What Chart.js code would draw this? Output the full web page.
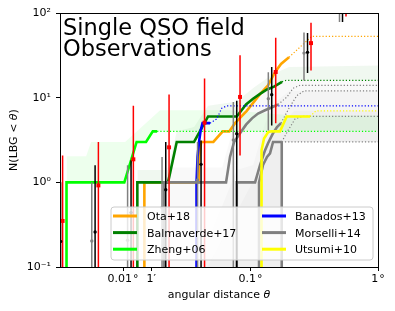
<!DOCTYPE html>
<html>
<head>
<meta charset="utf-8">
<script src="https://cdn.jsdelivr.net/npm/chart.js@4"></script>
<style>html,body{margin:0;padding:0;background:#fff}canvas{display:block}</style>
</head>
<body>
<canvas id="c" width="395" height="311"></canvas>
<script>
// x = angular distance (deg), y = N(LBG < theta)

// AXES
const xTickVals = [0.01, 1/60, 0.1, 1];
const xTickLabels = ['0.01\u200a°', '1′', '0.1\u200a°', '1\u200a°'];
const yTickVals = [0.1, 1, 10, 100];
const yTickLabels = ['10⁻¹', '10⁰', '10¹', '10²'];
const titleLines = ['Single QSO field', 'Observations'];

// Ota+18
const otaX = [0.01469, 0.01469, 0.03909, 0.03981, 0.04091, 0.05106, 0.06053, 0.06821, 0.07556, 0.09337, 0.1187, 0.1372, 0.1557, 0.1734, 0.2004];
const otaY = [0.01, 1, 1, 2, 3, 3, 4, 4, 5, 7, 11, 14, 20, 25, 30];
const otaDotX = [0.2004, 0.302, 1];
const otaDotY = [30, 53, 53];

// Balmaverde+17
const balmX = [0.01294, 0.01294, 0.02254, 0.02636, 0.03603, 0.04645, 0.07798, 0.0922, 0.1046, 0.1187, 0.1347, 0.1529, 0.1766];
const balmY = [0.01, 1, 1, 3, 3, 6, 6, 8.3, 9.7, 11.1, 12.5, 13.5, 15.4];
const balmDotX = [0.1766, 0.19, 1];
const balmDotY = [15.4, 16, 16];
const balmBandX = [0.01294, 0.02254, 0.02636, 0.03603, 0.04645, 0.07798, 0.105, 0.15, 0.2, 1];
const balmBandY = [1.4, 1.4, 4, 4.5, 8, 9, 13, 19, 23, 24];

// Zheng+06
const zhengX = [0.0036, 0.0036, 0.01023, 0.01277, 0.01514, 0.0171, 0.0185];
const zhengY = [0.01, 1, 1, 3, 3, 4, 4];
const zhengDotX = [0.0185, 1];
const zhengDotY = [4, 4];
const zhengBandX = [0.0036, 0.00513, 0.00561, 0.01037, 0.0195, 0.0691, 0.204, 1];
const zhengBandY = [2.03, 2.03, 3, 3, 7.1, 7.1, 6.2, 6.2];

// Banados+13
const banX = [0.03758, 0.03771, 0.0384, 0.03944, 0.04052, 0.04203, 0.04813];
const banY = [0.01, 1, 2, 3, 4, 5, 5];
const banDotX = [0.04813, 0.0543, 0.0594, 0.0651, 1];
const banDotY = [5, 5.6, 7.5, 8, 8];

// Morselli+14 (four fields)
const mor1X = [0.02108, 0.02108, 0.06424, 0.06906, 0.07424, 0.08271, 0.0922, 0.1027, 0.1145, 0.13, 0.1475, 0.1643];
const mor1Y = [0.01, 1, 1, 2, 3, 3.8, 4.8, 5.7, 6.5, 7.1, 7.7, 8.3];
const mor1DotX = [0.1643, 0.1934, 0.2154, 0.2444, 1];
const mor1DotY = [8.3, 10.2, 12.9, 14, 14];
const mor2X = [0.07794, 0.07794, 0.1085, 0.1187, 0.13, 0.1372, 0.1502, 0.1613, 0.1734];
const mor2Y = [0.01, 1, 1, 1.6, 2.4, 2.9, 3.8, 4.5, 5];
const mor2DotX = [0.1734, 0.2041, 0.2315, 0.2627, 1];
const mor2DotY = [5, 7.9, 10.6, 12, 12];
const mor3X = [0.1166, 0.1166, 0.1253, 0.1347, 0.1422, 0.1502, 0.1757];
const mor3Y = [0.01, 1, 1.6, 2, 2.2, 3, 3];
const mor3DotX = [0.1757, 0.1968, 0.2234, 0.2535, 1];
const mor3DotY = [3, 4.1, 5.6, 6, 6];
const mor4X = [0.1757, 0.1757];
const mor4Y = [0.01, 3];
const mor4DotX = [0.1757, 1];
const mor4DotY = [3, 3];
// shaded ranges: shared lower edge, three upper edges
const morLowX = [0.02108, 0.174, 0.178, 1];
const morLowY = [0.01, 0.01, 3, 3];
const morBand1X = [0.02108, 0.06, 0.075, 0.1, 0.13, 0.17, 0.22, 1];
const morBand1Y = [1.5, 1.5, 5, 9, 12, 15, 16, 16];
const morBand2X = [0.02108, 0.07794, 0.105, 0.13, 0.16, 0.2, 1];
const morBand2Y = [0.011, 1.4, 1.6, 5, 9, 12, 12];
const morBand3X = [0.02108, 0.1166, 0.14, 0.18, 0.22, 1];
const morBand3Y = [0.011, 1.4, 3.5, 5, 7, 7];

// Utsumi+10
const utsX = [0.122, 0.122, 0.1276, 0.1372, 0.1448, 0.1703, 0.1923, 0.2928];
const utsY = [0.01, 2.4, 3.3, 3.9, 4, 4, 6, 6];
const utsDotX = [0.2928, 0.3265, 1];
const utsDotY = [6, 7, 7];

// error bars
const redX = [0.003354, 0.006402, 0.01204, 0.02295, 0.04357, 0.08271, 0.1576, 0.2981, 0.561];
const redMid = [0.35, 0.92, 1.87, 2.59, 5.07, 10.2, 20.1, 44.1, 150];
const redLo = [0.01, 0.01, 0.01, 0.01, 0.01, 2.08, 5.0, 21, 91];
const redHi = [2.08, 3.0, 8.0, 10.9, 16.8, 31.6, 51.1, 76.8, 250];
const blackX = [0.003234, 0.006033, 0.01155, 0.02162, 0.04091, 0.07794, 0.1466, 0.28, 0.5267];
const blackMid = [0.2, 0.259, 0.439, 0.816, 1.63, 3.76, 10.85, 34.3, 150];
const blackLo = [0.01, 0.01, 0.01, 0.01, 0.01, 0.01, 4.7, 19.6, 78.5];
const blackHi = [1.0, 1.59, 1.82, 3.0, 3.13, 9.2, 23, 58.2, 250];
const greyX = [0.005682, 0.01085, 0.02022, 0.0384, 0.07329, 0.1379, 0.2627, 0.4989];
const greyMid = [0.203, 0.207, 0.5, 1.07, 3.16, 9.73, 33.6, 150];
const greyLo = [0.01, 0.01, 0.01, 0.01, 0.01, 4.1, 16, 78.5];
const greyHi = [1.0, 1.59, 1.99, 3.0, 8.9, 20, 59, 250];

// LEGEND
const legendLabels = ['Ota+18', 'Balmaverde+17', 'Zheng+06', 'Banados+13', 'Morselli+14', 'Utsumi+10'];
const legendColors = ['#ffa500', '#008000', '#00ff00', '#0000ff', '#808080', '#ffff00'];

function pts(xs, ys){ return xs.map((x,i)=>({x:x, y:ys[i]})); }
function bars(xs, lo, hi){
  let d=[];
  xs.forEach((x,i)=>{ d.push({x:x,y:lo[i]},{x:x,y:hi[i]},{x:x,y:null}); });
  return d;
}

let ds=[];
function add(d){
  d.order=1000-ds.length;   // later = on top
  d.clip=0;
  d.tension=0;
  if(d.fill===undefined) d.fill=false;
  ds.push(d);
}
function solid(xs,ys,col){ add({data:pts(xs,ys),borderColor:col,borderWidth:2.6}); }
function dotted(xs,ys,col){ add({data:pts(xs,ys),borderColor:col,borderWidth:1.2,borderDash:[1.2,2]}); }
function bandTo(lx,ly,xs,ys,col){
  add({data:pts(lx,ly),borderColor:'rgba(0,0,0,0)',borderWidth:1});
  add({data:pts(xs,ys),borderColor:'rgba(0,0,0,0)',borderWidth:1,backgroundColor:col,fill:'-1'});
}
function errs(xs,lo,hi,col){ add({data:bars(xs,lo,hi),borderColor:col,borderWidth:1.5,spanGaps:false}); }
function marks(xs,ys,col,style,r){
  add({data:pts(xs,ys),showLine:false,pointRadius:r,pointStyle:style,pointBackgroundColor:col,pointBorderWidth:0});
}

// bands
bandTo(morLowX,morLowY,morBand1X,morBand1Y,'rgba(128,128,128,0.05)');
bandTo(morLowX,morLowY,morBand2X,morBand2Y,'rgba(128,128,128,0.04)');
bandTo(morLowX,morLowY,morBand3X,morBand3Y,'rgba(128,128,128,0.04)');
bandTo(zhengX.slice(1).concat(zhengDotX.slice(1)), zhengY.slice(1).concat(zhengDotY.slice(1)), zhengBandX, zhengBandY, 'rgba(0,255,0,0.07)');
bandTo(balmX.slice(1).concat(balmDotX.slice(1)), balmY.slice(1).concat(balmDotY.slice(1)), balmBandX, balmBandY, 'rgba(0,128,0,0.06)');

// lines
dotted(otaDotX,otaDotY,'#ffa500'); solid(otaX,otaY,'#ffa500');
dotted(balmDotX,balmDotY,'#008000'); solid(balmX,balmY,'#008000');
dotted(zhengDotX,zhengDotY,'#00ff00'); solid(zhengX,zhengY,'#00ff00');
dotted(banDotX,banDotY,'#0000ff'); solid(banX,banY,'#0000ff');
dotted(mor1DotX,mor1DotY,'#808080'); solid(mor1X,mor1Y,'#808080');
dotted(mor2DotX,mor2DotY,'#808080'); solid(mor2X,mor2Y,'#808080');
dotted(mor3DotX,mor3DotY,'#808080'); solid(mor3X,mor3Y,'#808080');
dotted(mor4DotX,mor4DotY,'#808080'); solid(mor4X,mor4Y,'#808080');
dotted(utsDotX,utsDotY,'#ffff00'); solid(utsX,utsY,'#ffff00');

// error bars
errs(greyX,greyLo,greyHi,'#808080');
errs(blackX,blackLo,blackHi,'#000000');
errs(redX,redLo,redHi,'#ff0000');
marks(greyX,greyMid,'#808080','circle',1.7);
marks(blackX,blackMid,'#000000','circle',1.7);
marks(redX,redMid,'#ff0000','rect',2.8);

function drawParts(c, parts, x, y){
  // centred run of normal / italic pieces
  let w=0;
  parts.forEach(p=>{ c.font=(p[1]?'italic ':'')+'11px "DejaVu Sans"'; w+=c.measureText(p[0]).width; });
  let cx=x-w/2;
  parts.forEach(p=>{ c.font=(p[1]?'italic ':'')+'11px "DejaVu Sans"'; c.fillText(p[0],cx,y); cx+=c.measureText(p[0]).width; });
}

const deco={
  id:'deco',
  afterDraw(chart){
    const c=chart.ctx, a=chart.chartArea;
    c.save();
    c.strokeStyle='#000'; c.lineWidth=1;
    c.strokeRect(a.left+0.5,a.top+0.5,a.right-a.left,a.bottom-a.top);

    c.fillStyle='#000'; c.textAlign='left'; c.textBaseline='alphabetic';
    c.font='22.5px "DejaVu Sans"';
    c.fillText(titleLines[0],63,35);
    c.fillText(titleLines[1],63,56);

    drawParts(c,[['angular distance ',false],['θ',true]],219,298);
    c.save();
    c.translate(17,140); c.rotate(-Math.PI/2);
    drawParts(c,[['N(LBG < ',false],['θ',true],[')',false]],0,0);
    c.restore();

    // legend
    const bx=111, by=207, bw=262, bh=53, r=3;
    c.beginPath();
    c.moveTo(bx+r,by); c.lineTo(bx+bw-r,by); c.arcTo(bx+bw,by,bx+bw,by+r,r);
    c.lineTo(bx+bw,by+bh-r); c.arcTo(bx+bw,by+bh,bx+bw-r,by+bh,r);
    c.lineTo(bx+r,by+bh); c.arcTo(bx,by+bh,bx,by+bh-r,r);
    c.lineTo(bx,by+r); c.arcTo(bx,by,bx+r,by,r); c.closePath();
    c.fillStyle='rgba(255,255,255,0.8)'; c.fill();
    c.strokeStyle='#cccccc'; c.lineWidth=1; c.stroke();
    c.font='11px "DejaVu Sans"';
    legendLabels.forEach((lab,i)=>{
      const col=Math.floor(i/3), row=i%3;
      const hx=col?262:113, tx=col?295:147, ry=216+row*16.6;
      c.strokeStyle=legendColors[i]; c.lineWidth=3;
      c.beginPath(); c.moveTo(hx,ry); c.lineTo(hx+24,ry); c.stroke();
      c.fillStyle='#000'; c.fillText(lab,tx,ry+4);
    });
    c.restore();
  }
};

Chart.defaults.font.family='"DejaVu Sans"';
Chart.defaults.font.size=11;
Chart.defaults.color='#000';

new Chart(document.getElementById('c'),{
  type:'line',
  data:{datasets:ds},
  options:{
    responsive:false, animation:false, devicePixelRatio:1, events:[],
    layout:{padding:{top:13,right:17,left:0,bottom:0}},
    elements:{point:{radius:0}},
    plugins:{legend:{display:false},tooltip:{enabled:false}},
    scales:{
      x:{
        type:'logarithmic', min:0.0032, max:1, bounds:'data',
        afterBuildTicks:s=>{ s.ticks=xTickVals.map(v=>({value:v})); },
        afterFit:s=>{ s.height=44; },
        ticks:{callback:(v,i)=>xTickLabels[i], autoSkip:false, maxRotation:0, padding:2, color:'#000'},
        grid:{drawOnChartArea:false, tickLength:4, tickColor:'#000', tickWidth:1},
        border:{color:'#000', width:1}
      },
      y:{
        type:'logarithmic', min:0.1, max:100, bounds:'data',
        afterBuildTicks:s=>{ s.ticks=yTickVals.map(v=>({value:v})); },
        afterFit:s=>{ s.width=60; },
        ticks:{callback:(v,i)=>yTickLabels[i], autoSkip:false, padding:5, color:'#000'},
        grid:{drawOnChartArea:false, tickLength:4, tickColor:'#000', tickWidth:1},
        border:{color:'#000', width:1}
      }
    }
  },
  plugins:[deco]
});
</script>
</body>
</html>
